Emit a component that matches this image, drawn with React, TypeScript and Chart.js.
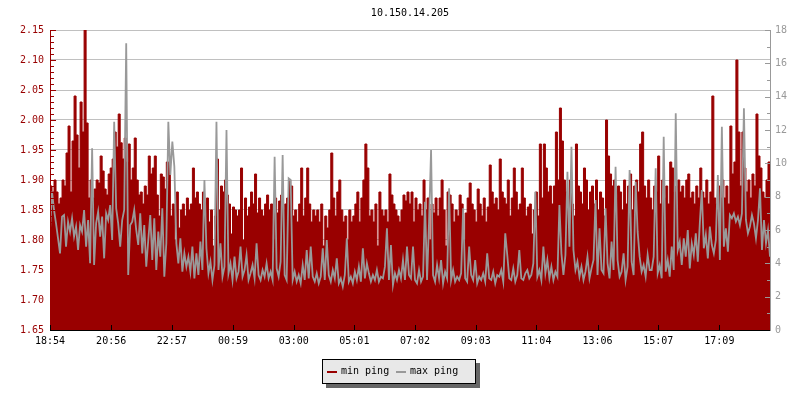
import React, { useEffect, useRef } from "react";
import { Chart, registerables } from "chart.js";

Chart.register(...registerables);

const chartTitle = "10.150.14.205";
const MONO = "'DejaVu Sans Mono', monospace";
const RED = "#990000";
const GREY = "#999999";

const minutesPerSample = 4;
const xTickMinutes = [0, 122, 243, 365, 486, 607, 728, 849, 970, 1092, 1213, 1335];
const xTickLabels = ["18:54", "20:56", "22:57", "00:59", "03:00", "05:01", "07:02", "09:03", "11:04", "13:06", "15:07", "17:09"];
const leftTicks = [1.65, 1.7, 1.75, 1.8, 1.85, 1.9, 1.95, 2.0, 2.05, 2.1, 2.15];
const rightTicks = [0, 2, 4, 6, 8, 10, 12, 14, 16, 18];

const legendLabels = ["min ping", "max ping"];

// min ping (left axis)
const minPing = [
  1.81, 1.89, 1.88, 1.90, 1.88, 1.86, 1.87, 1.90, 1.89, 1.945, 1.99, 1.88,
  1.965, 2.04, 1.975, 1.92, 2.03, 1.98, 2.15, 1.995, 1.87, 1.90, 1.87, 1.885,
  1.90, 1.895, 1.94, 1.915, 1.885, 1.875, 1.91, 1.92, 1.935, 1.98, 1.955, 2.01,
  1.962, 1.935, 1.97, 1.93, 1.96, 1.90, 1.92, 1.97, 1.90, 1.875, 1.88, 1.86,
  1.89, 1.875, 1.94, 1.91, 1.92, 1.94, 1.875, 1.84, 1.91, 1.905, 1.885, 1.93,

  1.93, 1.84, 1.86, 1.80, 1.88, 1.82, 1.85, 1.86, 1.84, 1.87, 1.85, 1.86,
  1.92, 1.87, 1.88, 1.86, 1.85, 1.88, 1.84, 1.87, 1.83, 1.85, 1.79, 1.84,
  1.935, 1.85, 1.89, 1.88, 1.90, 1.875, 1.86, 1.81, 1.855, 1.85, 1.84, 1.85,
  1.92, 1.80, 1.87, 1.84, 1.855, 1.88, 1.86, 1.91, 1.845, 1.87, 1.85, 1.84,
  1.86, 1.875, 1.85, 1.86, 1.80, 1.87, 1.845, 1.865, 1.875, 1.85, 1.86, 1.87,

  1.90, 1.89, 1.84, 1.85, 1.83, 1.86, 1.92, 1.84, 1.87, 1.92, 1.86, 1.83,
  1.85, 1.84, 1.85, 1.83, 1.86, 1.79, 1.84, 1.82, 1.85, 1.945, 1.87, 1.84,
  1.88, 1.90, 1.85, 1.83, 1.84, 1.80, 1.85, 1.83, 1.84, 1.86, 1.88, 1.83,
  1.87, 1.90, 1.96, 1.92, 1.84, 1.85, 1.83, 1.86, 1.79, 1.88, 1.85, 1.84,
  1.85, 1.83, 1.91, 1.875, 1.86, 1.85, 1.84, 1.83, 1.85, 1.875, 1.865, 1.88,

  1.86, 1.88, 1.83, 1.87, 1.85, 1.86, 1.84, 1.90, 1.85, 1.87, 1.80, 1.86,
  1.845, 1.87, 1.84, 1.87, 1.90, 1.85, 1.79, 1.88, 1.875, 1.86, 1.83, 1.85,
  1.84, 1.875, 1.86, 1.80, 1.845, 1.87, 1.895, 1.86, 1.85, 1.83, 1.885, 1.86,
  1.84, 1.87, 1.83, 1.855, 1.925, 1.88, 1.86, 1.87, 1.85, 1.935, 1.88, 1.87,
  1.86, 1.90, 1.84, 1.87, 1.92, 1.88, 1.85, 1.86, 1.92, 1.87, 1.84, 1.855,

  1.86, 1.81, 1.85, 1.88, 1.84, 1.96, 1.87, 1.96, 1.92, 1.88, 1.89, 1.86,
  1.89, 1.98, 1.90, 2.02, 1.965, 1.90, 1.88, 1.87, 1.90, 1.86, 1.84, 1.96,
  1.89, 1.88, 1.86, 1.92, 1.90, 1.85, 1.88, 1.89, 1.86, 1.90, 1.85, 1.88,
  1.87, 1.84, 2.00, 1.94, 1.91, 1.89, 1.90, 1.87, 1.89, 1.88, 1.85, 1.90,
  1.86, 1.89, 1.91, 1.85, 1.89, 1.90, 1.88, 1.96, 1.98, 1.89, 1.87, 1.90,

  1.87, 1.85, 1.89, 1.88, 1.94, 1.86, 1.90, 1.87, 1.89, 1.86, 1.93, 1.92,
  1.88, 1.89, 1.90, 1.88, 1.89, 1.87, 1.90, 1.91, 1.87, 1.88, 1.86, 1.89,
  1.87, 1.92, 1.88, 1.87, 1.90, 1.86, 1.88, 2.04, 1.87, 1.86, 1.89, 1.87,
  1.90, 1.87, 1.89, 1.86, 1.99, 1.91, 1.93, 2.10, 1.98, 1.89, 1.98, 1.92,
  1.88, 1.90, 1.87, 1.91, 1.89, 2.01, 1.94, 1.92, 1.88, 1.87, 1.90, 1.93,
];

// max ping (right axis)
const maxPing = [
  6.0, 8.3, 7.2, 6.4, 5.5, 4.6, 6.8, 6.9, 5.0, 6.5, 5.9, 6.7,
  5.6, 6.2, 4.8, 6.3, 5.9, 7.2, 5.0, 6.6, 4.0, 10.9, 3.9, 6.4,
  7.1, 5.6, 6.8, 4.3, 7.0, 6.6, 7.5, 5.4, 12.5, 7.3, 6.4, 5.0,
  6.6, 7.2, 17.2, 3.3, 6.3, 6.5, 7.2, 6.0, 5.1, 7.0, 4.6, 6.3,
  3.8, 5.4, 6.9, 4.2, 6.7, 3.6, 5.9, 4.4, 7.3, 3.2, 5.2, 12.5,

  9.3, 11.3, 9.8, 5.2, 4.0, 5.5, 3.5, 4.6, 3.8, 4.4, 3.5, 5.0,
  3.1, 4.6, 3.3, 5.3, 3.6, 9.0, 4.9, 3.4, 4.1, 3.0, 3.9, 12.5,
  3.6, 5.2, 3.2, 3.8, 12.0, 3.4, 4.0, 3.0, 4.4, 3.1, 3.5, 5.0,
  3.2, 3.6, 4.5, 3.0, 3.4, 3.9, 3.1, 5.2, 3.3, 3.0, 3.6, 3.2,
  4.0, 3.1, 3.5, 3.0, 10.4, 3.7, 3.2, 4.1, 10.5, 3.3, 3.0, 9.1,

  9.0, 3.0, 3.5, 2.9, 3.3, 2.8, 3.9, 3.0, 4.8, 3.1, 5.0, 3.2,
  2.9, 3.4, 2.8, 3.2, 4.9, 3.0, 5.4, 3.3, 2.9, 3.6, 3.1, 4.3,
  2.8, 3.1, 2.6, 3.3, 5.5, 2.9, 3.2, 2.8, 3.5, 3.0, 3.8, 2.9,
  4.9, 3.1, 4.0, 3.4, 2.9, 3.3, 3.0, 3.6, 2.9, 3.2, 3.1, 3.8,
  6.1, 3.0, 5.1, 2.7, 3.4, 3.0, 3.6, 3.1, 4.2, 3.0, 5.0, 3.3,

  3.1, 5.0, 3.0, 2.8, 3.6, 2.9, 3.2, 7.7, 3.0, 6.5, 10.8, 3.3,
  2.9, 3.9, 3.1, 4.2, 2.8, 3.5, 3.1, 8.5, 3.0, 3.6, 2.9, 3.2,
  3.0, 3.4, 7.3, 3.1, 2.9, 5.0, 3.3, 3.0, 4.2, 2.8, 3.2, 3.0,
  3.4, 2.9, 4.6, 3.1, 3.0, 3.5, 2.8, 3.3, 3.2, 3.6, 2.9, 5.8,
  4.5, 3.1, 3.0, 3.7, 2.9, 3.3, 4.8, 3.1, 3.0, 3.4, 3.6, 3.1,

  3.3, 4.0, 8.3, 3.2, 3.6, 3.0, 5.0, 3.4, 4.2, 3.1, 3.8, 3.0,
  3.5, 3.2, 7.5, 4.6, 3.3, 4.5, 9.5, 5.0, 11.0, 4.8, 3.6, 4.1,
  3.2, 3.8, 3.0, 3.5, 4.4, 3.1, 3.7, 4.2, 7.8, 3.3, 6.1, 3.6,
  3.4, 7.3, 4.0, 3.1, 5.3, 3.6, 9.8, 4.2, 3.2, 3.5, 4.6, 3.0,
  3.8, 9.6, 4.1, 3.3, 8.9, 5.9, 4.4, 3.5, 3.9, 3.2, 4.5, 3.6,

  3.6, 4.4, 9.7, 3.4, 3.9, 3.1, 11.6, 3.5, 4.2, 3.2, 5.0, 3.6,
  13.0, 4.8, 5.3, 3.9, 5.5, 4.4, 6.0, 3.7, 5.2, 4.5, 5.8, 4.1,
  6.4, 8.4, 4.9, 5.7, 4.3, 6.2, 5.1, 4.6, 5.4, 9.3, 4.2, 12.2,
  5.0, 6.1, 4.7, 6.9, 6.7, 7.0, 6.5, 6.8, 6.3, 7.0, 13.3, 6.6,
  5.8, 6.2, 6.9, 6.4, 5.5, 6.6, 8.5, 4.8, 6.6, 5.2, 6.0, 4.4,
];

function seg(ctx: CanvasRenderingContext2D, x1: number, y1: number, x2: number, y2: number) {
  ctx.beginPath();
  ctx.moveTo(x1, y1);
  ctx.lineTo(x2, y2);
  ctx.stroke();
}

const axisDecor = {
  id: "axisDecor",
  afterDraw(chart: any) {
    const ctx: CanvasRenderingContext2D = chart.ctx;
    const { left, right, top, bottom } = chart.chartArea;
    const xs = chart.scales.x;
    const ys = chart.scales.y;
    const y1 = chart.scales.y1;
    ctx.save();
    ctx.lineWidth = 1;

    // left axis (min ping)
    ctx.strokeStyle = RED;
    const lx = Math.round(left) + 0.5;
    seg(ctx, lx, top, lx, bottom + 1);
    for (let k = 0; k < leftTicks.length; k++) {
      const p = Math.round(ys.getPixelForValue(leftTicks[k])) + 0.5;
      seg(ctx, Math.round(left), p, Math.round(left) + 6, p);
      if (k < leftTicks.length - 1) {
        for (let m = 1; m < 5; m++) {
          const v = leftTicks[k] + ((leftTicks[k + 1] - leftTicks[k]) * m) / 5;
          const q = Math.round(ys.getPixelForValue(v)) + 0.5;
          seg(ctx, Math.round(left), q, Math.round(left) + 4, q);
        }
      }
    }

    // right axis (max ping)
    ctx.strokeStyle = GREY;
    const rx = Math.round(right) + 0.5;
    seg(ctx, rx, top, rx, bottom + 1);
    for (let k = 0; k < rightTicks.length; k++) {
      const p = Math.round(y1.getPixelForValue(rightTicks[k])) + 0.5;
      seg(ctx, Math.round(right) - 5, p, Math.round(right) + 1, p);
      if (k < rightTicks.length - 1) {
        const v = (rightTicks[k] + rightTicks[k + 1]) / 2;
        const q = Math.round(y1.getPixelForValue(v)) + 0.5;
        seg(ctx, Math.round(right) - 3, q, Math.round(right) + 1, q);
      }
    }

    // bottom axis
    ctx.strokeStyle = "#000000";
    const by = Math.round(bottom) + 0.5;
    seg(ctx, Math.round(left), by, Math.round(right), by);
    for (const m of xTickMinutes) {
      const px = Math.round(xs.getPixelForValue(m)) + 0.5;
      seg(ctx, px, Math.round(bottom) - 5, px, Math.round(bottom));
    }
    ctx.restore();
  },
};

export default function App() {
  const ref = useRef<HTMLCanvasElement>(null);

  useEffect(() => {
    const canvas = ref.current;
    if (!canvas) return;
    const minData = minPing.map((v, i) => ({ x: i * minutesPerSample, y: v }));
    const maxData = maxPing.map((v, i) => ({ x: i * minutesPerSample, y: v }));
    const xMax = (minPing.length - 1) * minutesPerSample;

    const chart = new Chart(canvas, {
      type: "line",
      data: {
        datasets: [
          {
            label: legendLabels[1],
            data: maxData,
            yAxisID: "y1",
            borderColor: GREY,
            backgroundColor: GREY,
            borderWidth: 1.8,
            borderJoinStyle: "miter",
            tension: 0,
            fill: false,
            pointRadius: 0,
            order: 1,
          },
          {
            label: legendLabels[0],
            data: minData,
            yAxisID: "y",
            borderColor: RED,
            backgroundColor: RED,
            borderWidth: 1,
            stepped: "after",
            fill: "start",
            pointRadius: 0,
            order: 2,
          },
        ],
      },
      options: {
        responsive: false,
        devicePixelRatio: 1,
        animation: false,
        layout: { padding: 0 },
        plugins: {
          legend: { display: false },
          tooltip: { enabled: false },
          title: {
            display: true,
            text: chartTitle,
            color: "#000000",
            fullSize: false,
            font: { family: MONO, size: 10, weight: "normal" },
            padding: { top: 7, bottom: 11 },
          },
        },
        scales: {
          x: {
            type: "linear",
            min: 0,
            max: xMax,
            grid: { display: false, drawTicks: false },
            border: { display: false },
            afterBuildTicks: (scale: any) => {
              scale.ticks = xTickMinutes.map((v) => ({ value: v }));
            },
            afterFit: (scale: any) => {
              scale.height = 70;
            },
            ticks: {
              autoSkip: false,
              maxRotation: 0,
              minRotation: 0,
              color: "#000000",
              padding: 5,
              font: { family: MONO, size: 10 },
              callback: (value: any) => {
                const k = xTickMinutes.indexOf(Number(value));
                return k >= 0 ? xTickLabels[k] : "";
              },
            },
          },
          y: {
            type: "linear",
            position: "left",
            min: 1.65,
            max: 2.15,
            grid: { color: "#c0c0c0", lineWidth: 1, drawTicks: false },
            border: { display: false },
            afterBuildTicks: (scale: any) => {
              scale.ticks = leftTicks.map((v) => ({ value: v }));
            },
            afterFit: (scale: any) => {
              scale.width = 50;
            },
            ticks: {
              color: RED,
              padding: 6,
              font: { family: MONO, size: 10 },
              callback: (value: any) => Number(value).toFixed(2),
            },
          },
          y1: {
            type: "linear",
            position: "right",
            min: 0,
            max: 18,
            grid: { display: false, drawTicks: false },
            border: { display: false },
            afterBuildTicks: (scale: any) => {
              scale.ticks = rightTicks.map((v) => ({ value: v }));
            },
            afterFit: (scale: any) => {
              scale.width = 30;
            },
            ticks: {
              color: GREY,
              padding: 5,
              font: { family: MONO, size: 10 },
              callback: (value: any) => String(value),
            },
          },
        },
      },
      plugins: [axisDecor],
    } as any);

    return () => chart.destroy();
  }, []);

  const textStyle: React.CSSProperties = {
    position: "absolute",
    fontFamily: MONO,
    fontSize: 10,
    lineHeight: "12px",
    color: "#000000",
    whiteSpace: "nowrap",
  };

  return (
    <div style={{ position: "absolute", left: 0, top: 0, width: 800, height: 400, background: "#ffffff" }}>
      <canvas ref={ref} width={800} height={400} style={{ display: "block", width: 800, height: 400 }} />
      <div
        style={{
          position: "absolute",
          left: 322,
          top: 359,
          width: 154,
          height: 25,
          boxSizing: "border-box",
          background: "#e8e8e8",
          border: "1px solid #000000",
          boxShadow: "4px 4px 0 #666666",
        }}
      />
      <div style={{ position: "absolute", left: 327, top: 371, width: 10, height: 2, background: RED }} />
      <span style={{ ...textStyle, left: 341, top: 365 }}>{legendLabels[0]}</span>
      <div style={{ position: "absolute", left: 396, top: 371, width: 10, height: 2, background: GREY }} />
      <span style={{ ...textStyle, left: 410, top: 365 }}>{legendLabels[1]}</span>
    </div>
  );
}
